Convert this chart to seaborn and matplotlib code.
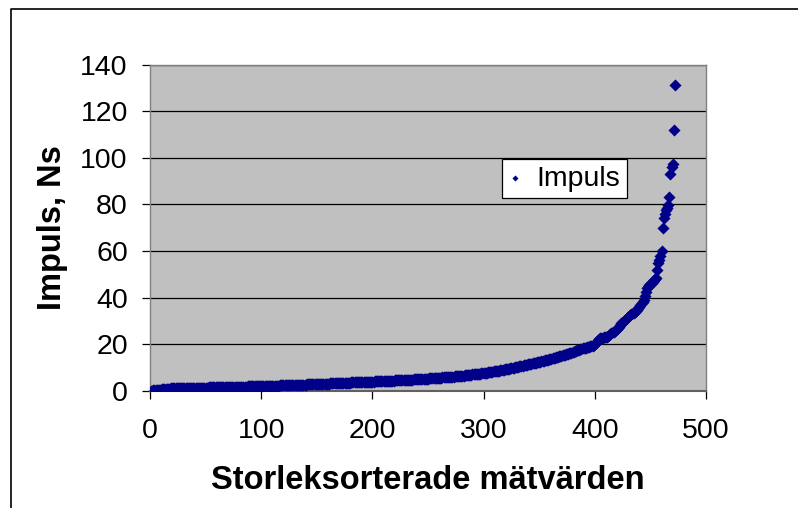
import numpy as np
import pandas as pd
import seaborn as sns
import matplotlib.pyplot as plt
from matplotlib.lines import Line2D

# Sorted impulse values (Ns), rank 1..472
impuls = [
    # 1-100
    0.05, 0.08, 0.12, 0.15, 0.18, 0.22, 0.25, 0.28, 0.32, 0.36,
    0.55, 0.68, 0.78, 0.85, 0.88, 0.90, 0.92, 0.93, 0.95, 0.96,
    0.98, 0.99, 1.00, 1.01, 1.03, 1.04, 1.05, 1.06, 1.08, 1.09,
    1.10, 1.11, 1.13, 1.14, 1.15, 1.16, 1.18, 1.19, 1.20, 1.21,
    1.23, 1.24, 1.25, 1.26, 1.28, 1.29, 1.30, 1.31, 1.33, 1.34,
    1.35, 1.36, 1.38, 1.39, 1.40, 1.41, 1.43, 1.44, 1.45, 1.46,
    1.48, 1.49, 1.50, 1.51, 1.53, 1.54, 1.55, 1.56, 1.58, 1.59,
    1.60, 1.61, 1.63, 1.64, 1.65, 1.66, 1.68, 1.69, 1.70, 1.71,
    1.73, 1.74, 1.75, 1.76, 1.78, 1.79, 1.80, 1.81, 1.83, 1.84,
    1.85, 1.86, 1.88, 1.89, 1.90, 1.91, 1.93, 1.94, 1.95, 1.96,
    # 101-200
    1.98, 2.00, 2.01, 2.03, 2.05, 2.06, 2.08, 2.10, 2.11, 2.13,
    2.15, 2.16, 2.18, 2.20, 2.21, 2.23, 2.25, 2.26, 2.28, 2.30,
    2.31, 2.33, 2.35, 2.36, 2.38, 2.40, 2.41, 2.43, 2.45, 2.46,
    2.48, 2.50, 2.52, 2.54, 2.56, 2.58, 2.60, 2.62, 2.64, 2.66,
    2.68, 2.70, 2.72, 2.74, 2.76, 2.78, 2.80, 2.82, 2.84, 2.86,
    2.88, 2.90, 2.92, 2.94, 2.96, 2.98, 3.00, 3.02, 3.04, 3.06,
    3.08, 3.10, 3.12, 3.14, 3.16, 3.18, 3.20, 3.22, 3.24, 3.26,
    3.28, 3.31, 3.33, 3.36, 3.38, 3.41, 3.43, 3.46, 3.48, 3.51,
    3.53, 3.56, 3.58, 3.61, 3.63, 3.66, 3.68, 3.71, 3.73, 3.76,
    3.78, 3.80, 3.82, 3.84, 3.85, 3.86, 3.87, 3.88, 3.89, 3.90,
    # 201-300
    3.92, 3.95, 3.97, 4.00, 4.02, 4.05, 4.07, 4.10, 4.12, 4.15,
    4.17, 4.20, 4.22, 4.25, 4.27, 4.30, 4.32, 4.35, 4.37, 4.40,
    4.42, 4.45, 4.47, 4.50, 4.52, 4.55, 4.57, 4.60, 4.62, 4.65,
    4.67, 4.70, 4.72, 4.75, 4.77, 4.80, 4.82, 4.85, 4.88, 4.91,
    4.94, 4.97, 5.00, 5.03, 5.06, 5.09, 5.12, 5.15, 5.18, 5.21,
    5.24, 5.27, 5.30, 5.33, 5.36, 5.40, 5.44, 5.48, 5.52, 5.56,
    5.60, 5.64, 5.68, 5.72, 5.76, 5.80, 5.84, 5.88, 5.92, 5.96,
    6.00, 6.04, 6.08, 6.12, 6.17, 6.22, 6.27, 6.32, 6.37, 6.42,
    6.47, 6.52, 6.57, 6.62, 6.67, 6.72, 6.78, 6.84, 6.90, 6.96,
    7.02, 7.08, 7.14, 7.20, 7.26, 7.32, 7.38, 7.44, 7.50, 7.56,
    # 301-400
    7.62, 7.70, 7.78, 7.86, 7.94, 8.02, 8.10, 8.18, 8.26, 8.34,
    8.42, 8.50, 8.58, 8.66, 8.74, 8.82, 8.92, 9.02, 9.12, 9.22,
    9.32, 9.42, 9.52, 9.62, 9.72, 9.82, 9.92, 10.02, 10.12, 10.22,
    10.33, 10.44, 10.55, 10.66, 10.77, 10.88, 10.99, 11.10, 11.21, 11.32,
    11.43, 11.54, 11.65, 11.76, 11.87, 11.98, 12.09, 12.20, 12.31, 12.42,
    12.53, 12.64, 12.75, 12.86, 12.97, 13.08, 13.20, 13.34, 13.48, 13.62,
    13.76, 13.90, 14.04, 14.18, 14.32, 14.46, 14.60, 14.74, 14.88, 15.02,
    15.16, 15.30, 15.44, 15.58, 15.72, 15.86, 16.00, 16.18, 16.36, 16.54,
    16.72, 16.90, 17.08, 17.26, 17.44, 17.62, 17.80, 17.98, 18.16, 18.34,
    18.30, 18.45, 18.60, 18.75, 18.90, 19.05, 19.20, 19.35, 19.60, 20.00,
    # 401-472
    20.5, 21.0, 21.6, 22.1, 22.5, 22.7, 22.8, 22.9, 23.0, 23.1,
    23.2, 23.5, 23.8, 24.2, 24.6, 25.0, 25.3, 25.7, 26.1, 26.5,
    26.8, 27.5, 28.2, 28.9, 29.5, 30.0, 30.5, 30.9, 31.3, 31.7,
    32.1, 32.5, 32.9, 33.2, 33.5, 33.9, 34.3, 34.6, 35.3, 36.0,
    36.8, 37.5, 38.2, 38.9, 40.7, 42.5, 43.9, 44.7, 45.4, 45.9,
    46.3, 46.8, 47.4, 48.0, 48.5, 51.8, 54.7, 56.1, 58.0, 60.1,
    70.0, 74.3, 76.0, 77.6, 78.5, 79.5, 83.3, 93.0, 95.9, 97.2,
    112.0, 131.0,
]
impuls = sorted(impuls)
rank = np.arange(1, len(impuls) + 1)

x_ticks = [0, 100, 200, 300, 400, 500]
y_ticks = [0, 20, 40, 60, 80, 100, 120, 140]

df = pd.DataFrame({"rank": rank, "Impuls": impuls})

sns.set_style("white")
plt.rcParams["font.family"] = ["Liberation Sans", "DejaVu Sans"]
plt.rcParams["text.color"] = "black"
plt.rcParams["axes.labelcolor"] = "black"
plt.rcParams["xtick.color"] = "black"
plt.rcParams["ytick.color"] = "black"

W, H = 798, 508
fig = plt.figure(figsize=(W / 100, H / 100), dpi=100)
# plot area in pixels: x 150..706, y 64.5..390.7
ax = fig.add_axes([150 / W, (H - 390.7) / H, (706 - 150) / W, (390.7 - 64.5) / H])
ax.set_facecolor("#C0C0C0")

sns.scatterplot(data=df, x="rank", y="Impuls", ax=ax, marker="D", s=38,
                color="#000088", linewidth=0, label="Impuls", zorder=3)

ax.set_xlim(0, 500)
ax.set_ylim(0, 140)
ax.set_xticks(x_ticks)
ax.set_yticks(y_ticks)
ax.yaxis.grid(True, color="black", linewidth=0.9)
ax.set_axisbelow(True)
for s in ax.spines.values():
    s.set_color("#808080")
    s.set_linewidth(1.0)
ax.spines["bottom"].set_color("#606060")
ax.spines["bottom"].set_linewidth(1.5)

ax.tick_params(axis="both", direction="out", length=6, width=0.9, color="black",
               labelcolor="black", labelsize=20.5, left=True, bottom=True)
ax.tick_params(axis="x", pad=14)
ax.tick_params(axis="y", pad=10)

ax.set_xlabel("Storleksorterade mätvärden", fontsize=23.5, fontweight="bold",
              labelpad=15, color="black")
ax.set_ylabel("Impuls, Ns", fontsize=23.5, fontweight="bold", labelpad=9,
              color="black")

leg = ax.legend(loc="center", bbox_to_anchor=(564.3 / W, (H - 178.7) / H),
                bbox_transform=fig.transFigure, fontsize=20.5, frameon=True,
                fancybox=False, borderpad=0.22, handlelength=0.5,
                handletextpad=0.5, borderaxespad=0, markerscale=0.5)
leg.get_frame().set_edgecolor("black")
leg.get_frame().set_linewidth(0.9)
leg.get_frame().set_facecolor("white")
leg.get_frame().set_alpha(1)

# outer chart frame (cropped on right and bottom)
fig.add_artist(Line2D([11 / W, 11 / W, 1], [0, (H - 9.3) / H, (H - 9.3) / H],
                      transform=fig.transFigure, color="black", linewidth=1.2))

fig.savefig("out.png", dpi=100)
